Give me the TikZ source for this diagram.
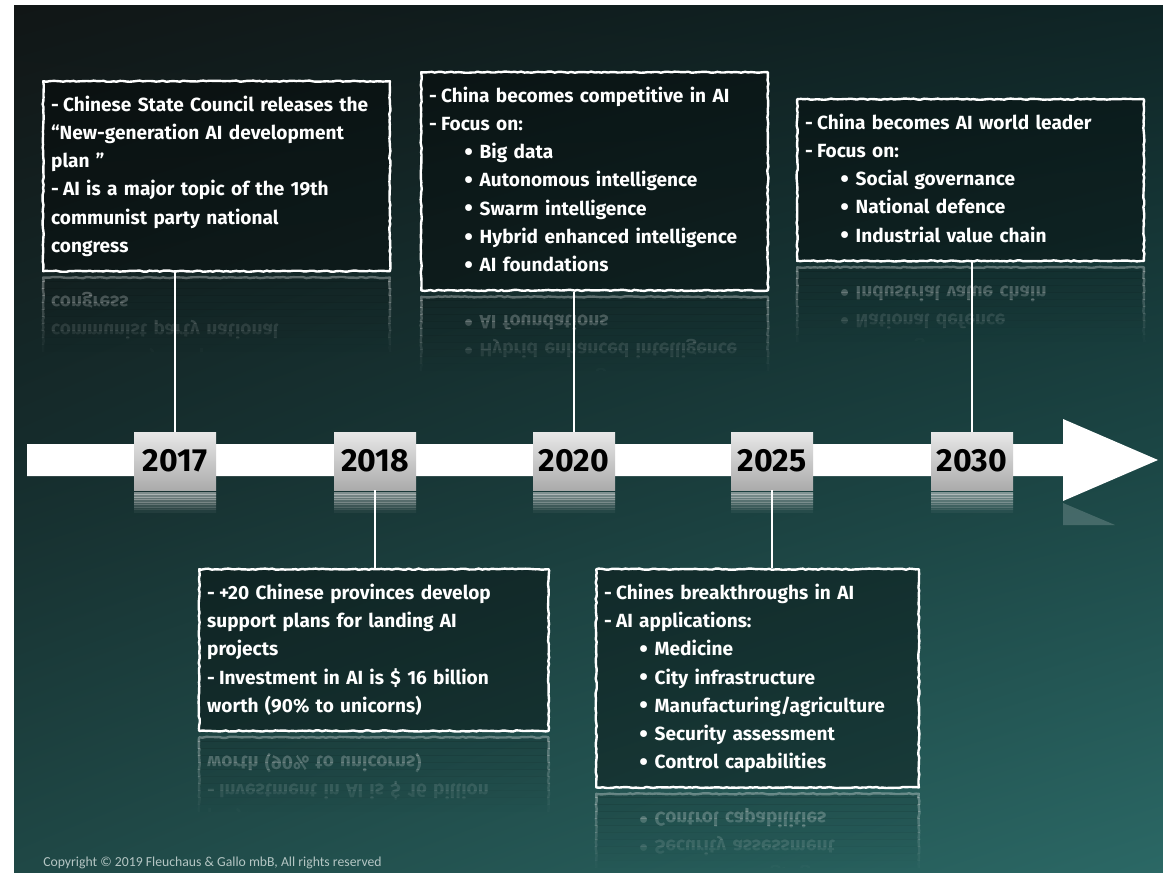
\documentclass[tikz,border=0pt]{standalone}
\usepackage{fontspec}
\setmainfont{Fira Sans}
\newfontfamily\copyfont{Carlito}
\usepackage{graphicx}
\usetikzlibrary{positioning, calc, shadings, decorations.pathmorphing}
\definecolor{bgA}{HTML}{111616}
\definecolor{bgB}{HTML}{0F2526}
\definecolor{bgC}{HTML}{152B2B}
\definecolor{bgD}{HTML}{1B4544}
\definecolor{bgE}{HTML}{1F4846}
\definecolor{bgF}{HTML}{2B6865}
\definecolor{yrtop}{HTML}{E8E8E8}
\definecolor{yrbot}{HTML}{ABABAB}
\definecolor{copygray}{HTML}{B5C6C4}

% list lines inside the boxes
\newcommand{\dashitem}[1]{\noindent\hangindent=0.62em\hangafter=1\makebox[0.62em][l]{-}#1\par}
\newcommand{\dotitem}[1]{\noindent\hspace*{1.85em}\makebox[0.8em][l]{\raisebox{-0.08em}{\scalebox{1.3}{\textbullet}}}#1\par}

% box with its faded mirror image below (#5 = depth below first baseline)
\newcommand{\infonode}[5]{%
  \node[infobox, text width=#3, text depth=#5] (#1) at #2 {#4};
  \foreach \i in {0,...,10}{
    \pgfmathsetmacro{\lo}{2+7*\i}
    \pgfmathsetmacro{\hi}{\lo+7.2}
    \pgfmathsetmacro{\op}{0.34*(1-(\lo+3.5)/80)}
    \pgfmathsetmacro{\fop}{\op/3}
    \begin{scope}
      \clip ($(#1.south west)+(-4,\lo)$) rectangle ($(#1.south east)+(4,\hi)$);
      \begin{scope}[shift={($(#1.south west)+(0,4)$)}, yscale=-1]
        \node[infobox, transform shape, anchor=south west, text width=#3, text depth=#5,
              draw opacity=\op, fill opacity=\fop, text opacity=\op] (#1m\i) at (0,0) {#4};
      \end{scope}
    \end{scope}
  }
}

\begin{document}
\begin{tikzpicture}[x=0.75pt, y=-0.75pt,
  infobox/.style={anchor=north west, draw=white, line width=1.8pt, line join=round,
    fill=black, fill opacity=0.35, text opacity=1, text=white, align=left,
    inner xsep=6pt, inner ysep=0pt, text height=22.5pt,
    font=\fontsize{14.3}{21.2}\selectfont\bfseries,
    decorate, decoration={random steps, segment length=2.5pt, amplitude=0.45pt}},
  yearbox/.style={minimum width=61.5pt, minimum height=43.5pt, inner sep=0pt,
    top color=yrtop, bottom color=yrbot, text=black,
    font=\fontsize{24}{24}\selectfont\bfseries},
  conn/.style={draw=white, line width=0.9pt}]

\fill[white] (0,0) rectangle (1163,873);
\useasboundingbox (0,0) rectangle (1163,873);
\shade[upper left=bgA, upper right=bgB, lower left=bgC, lower right=bgD] (14,6) rectangle (1163,441);
\shade[upper left=bgC, upper right=bgD, lower left=bgE, lower right=bgF] (14,440) rectangle (1163,873);

% upper boxes
\infonode{b17}{(42,80)}{248pt}{%
  \dashitem{Chinese State Council releases the\\“New-generation AI development\\plan ”}
  \dashitem{AI is a major topic of the 19th\\communist party national\\congress}}{120pt}
\infonode{b20}{(420,71)}{248pt}{%
  \dashitem{China becomes competitive in AI}
  \dashitem{Focus on:}
  \dotitem{Big data}
  \dotitem{Autonomous intelligence}
  \dotitem{Swarm intelligence}
  \dotitem{Hybrid enhanced intelligence}
  \dotitem{AI foundations}}{141.2pt}
\infonode{b30}{(796,98)}{248pt}{%
  \dashitem{China becomes AI world leader}
  \dashitem{Focus on:}
  \dotitem{Social governance}
  \dotitem{National defence}
  \dotitem{Industrial value chain}}{98.8pt}

% lower boxes
\infonode{b18}{(198,568)}{250pt}{%
  \dashitem{+20 Chinese provinces develop\\support plans for landing AI\\projects}
  \dashitem{Investment in AI is \$ 16 billion\\worth (90\% to unicorns)}}{98.8pt}
\infonode{b25}{(595,568)}{230pt}{%
  \dashitem{Chines breakthroughs in AI}
  \dashitem{AI applications:}
  \dotitem{Medicine}
  \dotitem{City infrastructure}
  \dotitem{Manufacturing/agriculture}
  \dotitem{Security assessment}
  \dotitem{Control capabilities}}{141.2pt}

% time arrow
\fill[white] (27,444) -- (1063,444) -- (1063,419) -- (1158,460) -- (1063,501)
  -- (1063,476) -- (27,476) -- cycle;
\fill[white, opacity=0.18] (1063,503) -- (1115,525) -- (1063,525) -- cycle;

\node[yearbox] (y17) at (175,461) {2017};
\node[yearbox] (y18) at (375,461) {2018};
\node[yearbox] (y20) at (574,461) {2020};
\node[yearbox] (y25) at (772,461) {2025};
\node[yearbox] (y30) at (972,461) {2030};

\foreach \yr in {17,18,20,25,30}{
  \foreach \i in {0,...,7}{
    \pgfmathsetmacro{\lo}{2+2.5*\i}
    \pgfmathsetmacro{\hi}{\lo+2.7}
    \pgfmathsetmacro{\op}{0.5*(1-\i/8)}
    \begin{scope}
      \clip ($(y\yr.south west)+(0,\lo)$) rectangle ($(y\yr.south east)+(0,\hi)$);
      \begin{scope}[shift={($(y\yr.south west)+(0,2)$)}, yscale=-1]
        \node[yearbox, transform shape, anchor=south west, opacity=\op] (r\yr m\i) at (0,0) {};
      \end{scope}
    \end{scope}
  }
}

\draw[conn] (y17.north) -- (y17.north |- b17.south);
\draw[conn] (y20.north) -- (y20.north |- b20.south);
\draw[conn] (y30.north) -- (y30.north |- b30.south);
\draw[conn] (y18.south) -- (y18.south |- b18.north);
\draw[conn] (y25.south) -- (y25.south |- b25.north);

\node[anchor=west, text=copygray, inner sep=0pt, font=\copyfont\fontsize{10.3}{12}\selectfont]
  (copy) at (43,863) {Copyright © 2019 Fleuchaus \& Gallo mbB, All rights reserved};
\end{tikzpicture}
\end{document}
